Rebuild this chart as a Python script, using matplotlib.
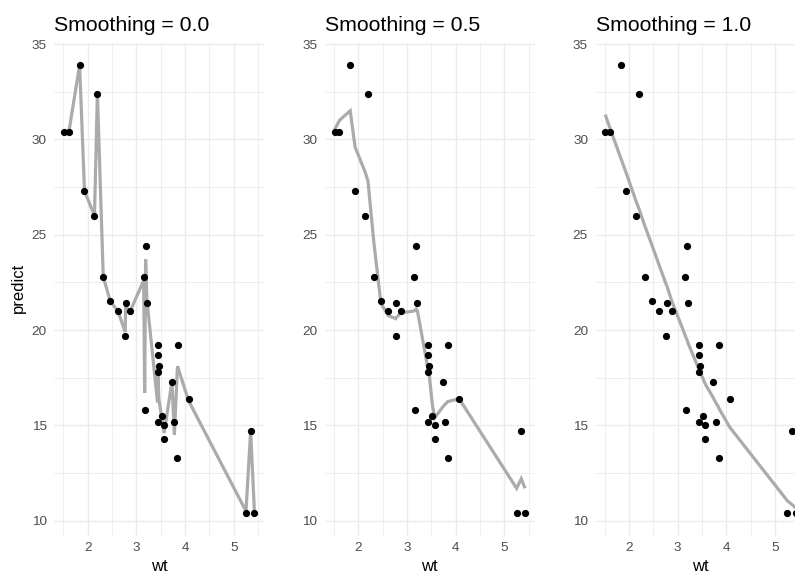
import matplotlib
matplotlib.use("Agg")
import matplotlib.pyplot as plt
from matplotlib.ticker import MultipleLocator

plt.rcParams['font.family'] = ['Liberation Sans', 'DejaVu Sans']

# observed points (weight vs mpg)
wt = [2.620, 2.875, 2.320, 3.215, 3.440, 3.460, 3.570, 3.190, 3.150, 3.440,
      3.440, 4.070, 3.730, 3.780, 5.250, 5.424, 5.345, 2.200, 1.615, 1.835,
      2.465, 3.520, 3.435, 3.840, 3.845, 1.935, 2.140, 1.513, 3.170, 2.770,
      3.570, 2.780]
mpg = [21.0, 21.0, 22.8, 21.4, 18.7, 18.1, 14.3, 24.4, 22.8, 19.2,
       17.8, 16.4, 17.3, 15.2, 10.4, 10.4, 14.7, 32.4, 30.4, 33.9,
       21.5, 15.5, 15.2, 13.3, 19.2, 27.3, 26.0, 30.4, 15.8, 19.7,
       15.0, 21.4]

# fitted values at each distinct weight
wt_fit = [1.513, 1.615, 1.835, 1.935, 2.140, 2.200, 2.320, 2.465, 2.620, 2.770,
          2.780, 2.875, 3.150, 3.170, 3.190, 3.215, 3.435, 3.440, 3.460, 3.520,
          3.570, 3.730, 3.780, 3.840, 3.845, 4.070, 5.250, 5.345, 5.424]
pred_00 = [30.4, 30.4, 33.9, 27.3, 26.0, 32.4, 22.8, 21.5, 21.0, 19.9,
           21.2, 21.0, 22.6, 16.7, 23.7, 21.6, 16.2, 18.1, 16.4, 15.4,
           14.6, 17.3, 14.5, 17.9, 18.1, 16.3, 10.5, 14.7, 10.4]
pred_05 = [30.5, 31.0, 31.5, 29.6, 28.3, 27.8, 24.6, 21.4, 20.75, 20.6,
           20.65, 20.9, 21.0, 21.05, 21.1, 21.0, 17.9, 17.8, 17.55, 16.1,
           15.4, 15.95, 16.1, 16.25, 16.25, 16.4, 11.7, 12.2, 11.7]
pred_10 = [31.3, 30.55, 29.0, 28.3, 26.8, 26.4, 25.5, 24.5, 23.4, 22.35,
           22.3, 21.55, 19.75, 19.6, 19.5, 19.3, 17.95, 17.9, 17.8, 17.45,
           17.15, 16.45, 16.2, 15.95, 15.9, 14.9, 11.05, 10.85, 10.67]

titles = ['Smoothing = 0.0', 'Smoothing = 0.5', 'Smoothing = 1.0']
preds = [pred_00, pred_05, pred_10]

W, H = 795, 574
fig = plt.figure(figsize=(W / 100, H / 100), dpi=100)
fig.patch.set_facecolor('white')

lefts = [54.4, 325.0, 595.7]
pw = 209.6
top, bottom = 42.6, 535.5

for i in range(3):
    ax = fig.add_axes([lefts[i] / W, 1 - bottom / H, pw / W, (bottom - top) / H])
    ax.set_xlim(1.3175, 5.6195)
    ax.set_ylim(9.225, 35.075)
    ax.plot(wt_fit, preds[i], color='#ababab', lw=2.3, zorder=2,
            solid_joinstyle='miter', solid_capstyle='butt')
    ax.scatter(wt, mpg, s=27, color='black', linewidths=0, zorder=3)

    ax.xaxis.set_major_locator(MultipleLocator(1))
    ax.xaxis.set_minor_locator(MultipleLocator(0.5))
    ax.yaxis.set_major_locator(MultipleLocator(5))
    ax.yaxis.set_minor_locator(MultipleLocator(2.5))
    ax.grid(True, which='major', color='#ebebeb', lw=1.0, zorder=0)
    ax.grid(True, which='minor', color='#ebebeb', lw=0.6, zorder=0)
    ax.set_axisbelow(True)
    for s in ax.spines.values():
        s.set_visible(False)
    ax.tick_params(which='both', length=0, labelsize=9.7, labelcolor='#4d4d4d')
    ax.tick_params(axis='x', pad=4.7)
    ax.tick_params(axis='y', pad=5.5)

    ax.set_title(titles[i], loc='left', fontsize=15.3, pad=8, color='black')
    fig.text((lefts[i] + pw / 2) / W, 1 - 571 / H, 'wt', ha='center',
             va='baseline', fontsize=12)

fig.text(18 / W, 1 - 288 / H, 'predict', rotation=90, ha='center',
         va='center', fontsize=12)

plt.savefig('out.png', dpi=100)
